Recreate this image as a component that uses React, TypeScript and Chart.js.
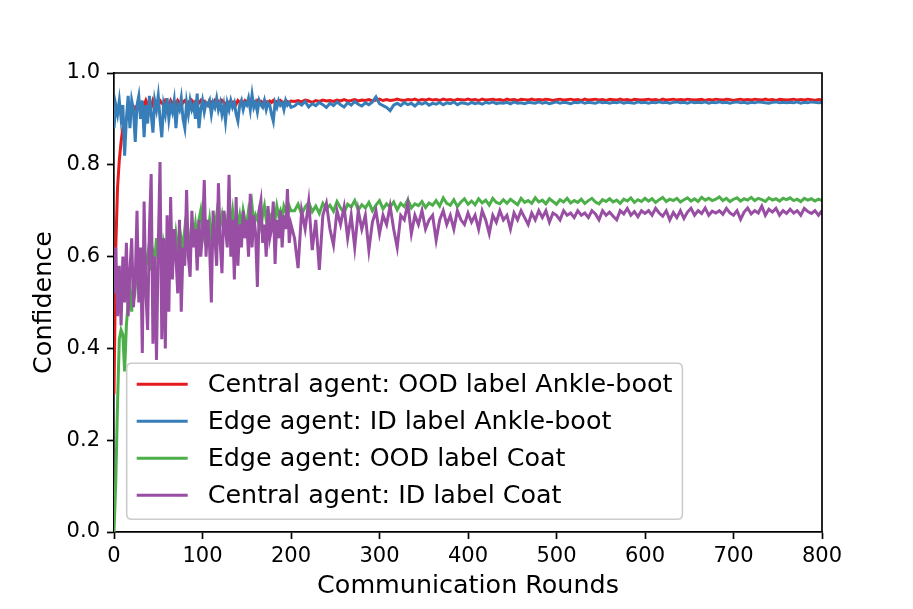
import React, { useEffect, useRef } from "react";
import { Chart, registerables } from "chart.js";

Chart.register(...registerables);

// x positions: every 2 rounds up to 200, then every 4 rounds up to 800
const ROUNDS: number[] = [
  ...Array.from({ length: 101 }, (_, i) => i * 2),
  ...Array.from({ length: 150 }, (_, i) => 204 + i * 4),
];

const LABELS = [
  "Central agent: OOD label Ankle-boot",
  "Edge agent: ID label Ankle-boot",
  "Edge agent: OOD label Coat",
  "Central agent: ID label Coat",
];
const COLORS = ["#e41a1c", "#377eb8", "#4daf4a", "#984ea3"];

const X_TICKS = [0, 100, 200, 300, 400, 500, 600, 700, 800];
const Y_TICKS = [0.0, 0.2, 0.4, 0.6, 0.8, 1.0];

const CENTRAL_OOD_BOOT = [
  0.30, 0.62, 0.75, 0.81, 0.85, 0.88, 0.89, 0.90, 0.91, 0.905,
  0.92, 0.915, 0.925, 0.92, 0.93, 0.925, 0.935, 0.93, 0.94, 0.93,
  0.935, 0.925, 0.94, 0.93, 0.935, 0.93, 0.94, 0.935, 0.93, 0.94,
  0.935, 0.93, 0.94, 0.932, 0.938, 0.93, 0.94, 0.935, 0.928, 0.937,
  0.94, 0.932, 0.936, 0.93, 0.94, 0.935, 0.938, 0.93, 0.935, 0.94,
  0.933, 0.938, 0.935, 0.93, 0.94, 0.936, 0.932, 0.94, 0.935, 0.938,
  0.933, 0.94, 0.936, 0.93, 0.938, 0.935, 0.94, 0.934, 0.937, 0.932,
  0.94, 0.936, 0.938, 0.933, 0.94, 0.937, 0.935, 0.94, 0.934, 0.938,
  0.936, 0.94, 0.935, 0.938, 0.933, 0.94, 0.937, 0.935, 0.939, 0.936,
  0.94, 0.935, 0.938, 0.936, 0.94, 0.937, 0.934, 0.94, 0.938, 0.936,
  0.939,
  0.938, 0.940, 0.937, 0.941, 0.939, 0.936, 0.940, 0.938, 0.941, 0.939,
  0.940, 0.938, 0.941, 0.939, 0.942, 0.939, 0.940, 0.942, 0.939, 0.941,
  0.940, 0.942, 0.939, 0.941, 0.943, 0.940, 0.942, 0.940, 0.941, 0.943,
  0.941, 0.940, 0.942, 0.941, 0.943, 0.940, 0.942, 0.941, 0.943, 0.941,
  0.942, 0.940, 0.943, 0.941, 0.942, 0.940, 0.943, 0.942, 0.941, 0.943,
  0.941, 0.942, 0.940, 0.943, 0.941, 0.942, 0.943, 0.941, 0.942, 0.940,
  0.943, 0.941, 0.942, 0.940, 0.943, 0.942, 0.941, 0.943, 0.941, 0.942,
  0.941, 0.943, 0.942, 0.940, 0.942, 0.943, 0.941, 0.942, 0.943, 0.941,
  0.942, 0.940, 0.943, 0.941, 0.942, 0.943, 0.941, 0.942, 0.940, 0.943,
  0.942, 0.941, 0.943, 0.941, 0.942, 0.940, 0.943, 0.942, 0.941, 0.942,
  0.943, 0.941, 0.942, 0.940, 0.943, 0.941, 0.942, 0.943, 0.941, 0.942,
  0.941, 0.943, 0.942, 0.941, 0.942, 0.943, 0.940, 0.942, 0.941, 0.943,
  0.942, 0.941, 0.943, 0.942, 0.940, 0.942, 0.943, 0.941, 0.942, 0.941,
  0.943, 0.942, 0.941, 0.943, 0.941, 0.942, 0.940, 0.943, 0.942, 0.941,
  0.942, 0.943, 0.941, 0.942, 0.941, 0.943, 0.942, 0.940, 0.942, 0.941,
];

const EDGE_ID_BOOT = [
  0.88, 0.93, 0.91, 0.94, 0.90, 0.93, 0.82, 0.90, 0.95, 0.88,
  0.94, 0.92, 0.85, 0.93, 0.95, 0.90, 0.94, 0.86, 0.93, 0.89,
  0.95, 0.91, 0.87, 0.94, 0.92, 0.95, 0.90, 0.86, 0.93, 0.91,
  0.945, 0.90, 0.93, 0.915, 0.94, 0.88, 0.93, 0.92, 0.945, 0.90,
  0.88, 0.935, 0.91, 0.94, 0.92, 0.93, 0.90, 0.955, 0.88, 0.92,
  0.94, 0.915, 0.935, 0.93, 0.94, 0.91, 0.935, 0.925, 0.945, 0.92,
  0.935, 0.91, 0.93, 0.895, 0.935, 0.92, 0.94, 0.925, 0.935, 0.91,
  0.895, 0.93, 0.94, 0.92, 0.935, 0.93, 0.945, 0.92, 0.953, 0.925,
  0.935, 0.915, 0.94, 0.93, 0.925, 0.94, 0.92, 0.935, 0.93, 0.91,
  0.895, 0.935, 0.925, 0.94, 0.93, 0.935, 0.92, 0.94, 0.93, 0.935,
  0.925,
  0.928, 0.935, 0.930, 0.938, 0.926, 0.933, 0.929, 0.936, 0.931, 0.925,
  0.934, 0.929, 0.937, 0.931, 0.926, 0.935, 0.930, 0.938, 0.932, 0.928,
  0.935, 0.931, 0.937, 0.948, 0.933, 0.929, 0.925, 0.918, 0.930, 0.934,
  0.929, 0.936, 0.931, 0.934, 0.928, 0.935, 0.932, 0.936, 0.930, 0.934,
  0.932, 0.936, 0.931, 0.935, 0.933, 0.937, 0.931, 0.935, 0.934, 0.932,
  0.936, 0.933, 0.935, 0.932, 0.936, 0.934, 0.937, 0.933, 0.935, 0.934,
  0.936, 0.933, 0.937, 0.934, 0.935, 0.933, 0.936, 0.935, 0.934, 0.937,
  0.934, 0.936, 0.933, 0.935, 0.937, 0.934, 0.936, 0.935, 0.933, 0.936,
  0.935, 0.937, 0.934, 0.936, 0.935, 0.934, 0.937, 0.935, 0.936, 0.934,
  0.936, 0.935, 0.937, 0.934, 0.936, 0.935, 0.934, 0.937, 0.935, 0.936,
  0.934, 0.936, 0.935, 0.937, 0.935, 0.936, 0.934, 0.936, 0.937, 0.935,
  0.936, 0.934, 0.937, 0.935, 0.936, 0.935, 0.937, 0.934, 0.936, 0.935,
  0.937, 0.935, 0.936, 0.934, 0.936, 0.937, 0.935, 0.936, 0.934, 0.936,
  0.935, 0.937, 0.936, 0.935, 0.934, 0.936, 0.937, 0.935, 0.936, 0.935,
  0.936, 0.935, 0.937, 0.934, 0.936, 0.935, 0.937, 0.936, 0.935, 0.936,
];

const EDGE_OOD_COAT = [
  0.0, 0.11, 0.28, 0.42, 0.44, 0.43, 0.35, 0.45, 0.50, 0.52,
  0.48, 0.55, 0.53, 0.58, 0.56, 0.60, 0.55, 0.62, 0.58, 0.60,
  0.63, 0.57, 0.61, 0.59, 0.64, 0.60, 0.62, 0.58, 0.63, 0.61,
  0.64, 0.58, 0.60, 0.63, 0.61, 0.65, 0.62, 0.60, 0.64, 0.62,
  0.66, 0.63, 0.65, 0.61, 0.66, 0.64, 0.67, 0.63, 0.68, 0.70,
  0.66, 0.64, 0.67, 0.65, 0.68, 0.64, 0.67, 0.66, 0.69, 0.65,
  0.67, 0.69, 0.66, 0.68, 0.65, 0.69, 0.67, 0.70, 0.66, 0.68,
  0.67, 0.69, 0.66, 0.70, 0.68, 0.67, 0.70, 0.68, 0.71, 0.67,
  0.69, 0.68, 0.70, 0.67, 0.69, 0.71, 0.68, 0.70, 0.69, 0.67,
  0.70, 0.68, 0.71, 0.69, 0.70, 0.68, 0.71, 0.70, 0.69, 0.71,
  0.70,
  0.700, 0.714, 0.692, 0.708, 0.718, 0.698, 0.710, 0.694, 0.716, 0.704,
  0.712, 0.699, 0.720, 0.706, 0.695, 0.714, 0.708, 0.722, 0.701, 0.713,
  0.706, 0.718, 0.700, 0.712, 0.722, 0.704, 0.715, 0.708, 0.719, 0.702,
  0.716, 0.709, 0.724, 0.706, 0.715, 0.711, 0.720, 0.707, 0.717, 0.712,
  0.722, 0.710, 0.728, 0.716, 0.712, 0.724, 0.709, 0.719, 0.726, 0.714,
  0.721, 0.713, 0.726, 0.717, 0.723, 0.712, 0.727, 0.718, 0.715, 0.724,
  0.716, 0.725, 0.719, 0.713, 0.727, 0.718, 0.722, 0.716, 0.728, 0.719,
  0.723, 0.715, 0.726, 0.720, 0.714, 0.724, 0.719, 0.727, 0.717, 0.722,
  0.718, 0.725, 0.716, 0.722, 0.727, 0.719, 0.715, 0.724, 0.720, 0.726,
  0.719, 0.723, 0.716, 0.725, 0.721, 0.728, 0.718, 0.724, 0.720, 0.727,
  0.721, 0.726, 0.718, 0.724, 0.729, 0.720, 0.725, 0.722, 0.727, 0.719,
  0.724, 0.728, 0.721, 0.726, 0.720, 0.729, 0.723, 0.727, 0.722, 0.725,
  0.730, 0.722, 0.727, 0.720, 0.725, 0.728, 0.721, 0.726, 0.723, 0.729,
  0.722, 0.727, 0.724, 0.720, 0.728, 0.723, 0.726, 0.721, 0.727, 0.724,
  0.728, 0.722, 0.725, 0.720, 0.727, 0.723, 0.726, 0.721, 0.725, 0.722,
];

const CENTRAL_ID_COAT = [
  0.52, 0.62, 0.47, 0.58, 0.45, 0.60, 0.50, 0.63, 0.47, 0.57,
  0.64, 0.49, 0.55, 0.70, 0.50, 0.62, 0.39, 0.72, 0.52, 0.44,
  0.66, 0.78, 0.41, 0.60, 0.375, 0.62, 0.806, 0.42, 0.64, 0.40,
  0.69, 0.48, 0.73, 0.55, 0.66, 0.60, 0.52, 0.68, 0.48, 0.62,
  0.58, 0.745, 0.60, 0.556, 0.70, 0.62, 0.66, 0.57, 0.68, 0.60,
  0.65, 0.767, 0.60, 0.68, 0.62, 0.50, 0.70, 0.64, 0.58, 0.76,
  0.63, 0.564, 0.70, 0.66, 0.62, 0.778, 0.60, 0.68, 0.55, 0.73,
  0.58, 0.67, 0.62, 0.70, 0.64, 0.68, 0.60, 0.737, 0.62, 0.69,
  0.65, 0.534, 0.70, 0.722, 0.63, 0.67, 0.60, 0.71, 0.64, 0.66,
  0.72, 0.584, 0.68, 0.64, 0.70, 0.62, 0.69, 0.66, 0.747, 0.63,
  0.67,
  0.64, 0.575, 0.70, 0.66, 0.72, 0.614, 0.68, 0.571, 0.69, 0.716,
  0.66, 0.625, 0.70, 0.67, 0.708, 0.64, 0.69, 0.62, 0.70, 0.66,
  0.69, 0.614, 0.675, 0.70, 0.65, 0.69, 0.67, 0.71, 0.66, 0.62,
  0.69, 0.68, 0.716, 0.65, 0.69, 0.67, 0.70, 0.66, 0.68, 0.69,
  0.636, 0.68, 0.70, 0.67, 0.69, 0.66, 0.70, 0.68, 0.67, 0.695,
  0.675, 0.69, 0.66, 0.70, 0.68, 0.65, 0.69, 0.675, 0.70, 0.68,
  0.69, 0.66, 0.695, 0.68, 0.70, 0.685, 0.67, 0.695, 0.68, 0.70,
  0.685, 0.70, 0.675, 0.695, 0.69, 0.68, 0.70, 0.69, 0.695, 0.685,
  0.70, 0.69, 0.695, 0.685, 0.70, 0.693, 0.68, 0.70, 0.69, 0.697,
  0.688, 0.68, 0.70, 0.693, 0.705, 0.69, 0.698, 0.687, 0.70, 0.694,
  0.70, 0.69, 0.705, 0.695, 0.688, 0.70, 0.68, 0.696, 0.685, 0.70,
  0.683, 0.697, 0.705, 0.69, 0.70, 0.694, 0.706, 0.69, 0.699, 0.695,
  0.70, 0.692, 0.705, 0.695, 0.69, 0.70, 0.681, 0.697, 0.706, 0.693,
  0.70, 0.695, 0.71, 0.69, 0.703, 0.697, 0.705, 0.69, 0.70, 0.694,
  0.703, 0.695, 0.70, 0.69, 0.705, 0.698, 0.694, 0.70, 0.69, 0.70,
];

const SERIES = [CENTRAL_OOD_BOOT, EDGE_ID_BOOT, EDGE_OOD_COAT, CENTRAL_ID_COAT];

const FONT = "'DejaVu Sans', 'Liberation Sans', sans-serif";

const framePlugin = {
  id: "frame",
  afterDraw(chart: any) {
    const { ctx, chartArea: a } = chart;
    ctx.save();
    ctx.strokeStyle = "#000";
    ctx.lineWidth = 1.7;
    ctx.beginPath();
    ctx.moveTo(a.left, a.top);
    ctx.lineTo(a.right, a.top);
    ctx.lineTo(a.right, a.bottom);
    ctx.stroke();
    ctx.restore();
  },
};

const legendPlugin = {
  id: "boxLegend",
  afterDraw(chart: any) {
    const { ctx, chartArea: a } = chart;
    const fs = 25.4;
    const pad = 10;
    const handle = 51;
    const gap = 20;
    const rowH = 37;
    const items = chart.data.datasets;
    ctx.save();
    ctx.font = `${fs}px ${FONT}`;
    const textW = Math.max(...items.map((d: any) => ctx.measureText(d.label).width));
    const boxW = pad + handle + gap + textW + pad;
    const boxH = 156;
    const x0 = a.left + 12.7;
    const y1 = a.bottom - 12.7;
    const y0 = y1 - boxH;
    const r = 5;
    ctx.beginPath();
    ctx.moveTo(x0 + r, y0);
    ctx.lineTo(x0 + boxW - r, y0);
    ctx.quadraticCurveTo(x0 + boxW, y0, x0 + boxW, y0 + r);
    ctx.lineTo(x0 + boxW, y1 - r);
    ctx.quadraticCurveTo(x0 + boxW, y1, x0 + boxW - r, y1);
    ctx.lineTo(x0 + r, y1);
    ctx.quadraticCurveTo(x0, y1, x0, y1 - r);
    ctx.lineTo(x0, y0 + r);
    ctx.quadraticCurveTo(x0, y0, x0 + r, y0);
    ctx.closePath();
    ctx.fillStyle = "rgba(255,255,255,0.8)";
    ctx.fill();
    ctx.strokeStyle = "#cccccc";
    ctx.lineWidth = 1.6;
    ctx.stroke();
    items.forEach((d: any, i: number) => {
      const cy = y0 + 21 + i * rowH;
      ctx.beginPath();
      ctx.strokeStyle = d.borderColor;
      ctx.lineWidth = 3;
      ctx.moveTo(x0 + pad, cy);
      ctx.lineTo(x0 + pad + handle, cy);
      ctx.stroke();
      ctx.fillStyle = "#000";
      ctx.textBaseline = "middle";
      ctx.textAlign = "left";
      ctx.fillText(d.label, x0 + pad + handle + gap, cy + 1);
    });
    ctx.restore();
  },
};

export default function App() {
  const canvasRef = useRef<HTMLCanvasElement | null>(null);

  useEffect(() => {
    const canvas = canvasRef.current;
    if (!canvas) return;
    const datasets = SERIES.map((vals, i) => ({
      label: LABELS[i],
      data: vals.map((v, j) => ({ x: ROUNDS[j], y: v })),
      borderColor: COLORS[i],
      backgroundColor: COLORS[i],
      borderWidth: 3,
      pointRadius: 0,
      tension: 0,
      fill: false,
      order: 3 - i,
    }));
    const chart = new Chart(canvas, {
      type: "line",
      data: { datasets },
      options: {
        responsive: false,
        animation: false,
        devicePixelRatio: 1,
        layout: { padding: { top: 73, right: 91, left: 0, bottom: 0 } },
        plugins: {
          legend: { display: false },
          tooltip: { enabled: false },
        },
        scales: {
          x: {
            type: "linear",
            min: 0,
            max: 800,
            afterBuildTicks: (scale: any) => {
              scale.ticks = X_TICKS.map((v) => ({ value: v }));
            },
            afterFit: (scale: any) => {
              scale.height = 77;
            },
            ticks: {
              color: "#000",
              font: { family: FONT, size: 21 },
              padding: 5,
              maxRotation: 0,
              autoSkip: false,
              callback: (v: any) => String(v),
            },
            grid: {
              display: true,
              drawOnChartArea: false,
              drawTicks: true,
              tickLength: 7,
              tickColor: "#000",
              tickWidth: 1.7,
            },
            border: { display: true, color: "#000", width: 1.7 },
            title: {
              display: true,
              text: "Communication Rounds",
              color: "#000",
              font: { family: FONT, size: 25.4 },
              padding: { top: 0, bottom: 7 },
            },
          },
          y: {
            type: "linear",
            min: 0,
            max: 1,
            afterBuildTicks: (scale: any) => {
              scale.ticks = Y_TICKS.map((v) => ({ value: v }));
            },
            afterFit: (scale: any) => {
              scale.width = 114;
            },
            ticks: {
              color: "#000",
              font: { family: FONT, size: 21 },
              padding: 7,
              autoSkip: false,
              callback: (v: any) => Number(v).toFixed(1),
            },
            grid: {
              display: true,
              drawOnChartArea: false,
              drawTicks: true,
              tickLength: 7,
              tickColor: "#000",
              tickWidth: 1.7,
            },
            border: { display: true, color: "#000", width: 1.7 },
            title: {
              display: true,
              text: "Confidence",
              color: "#000",
              font: { family: FONT, size: 25.4 },
              padding: { top: 29, bottom: 0 },
            },
          },
        },
      },
      plugins: [framePlugin, legendPlugin],
    });
    return () => chart.destroy();
  }, []);

  return (
    <div style={{ position: "absolute", left: 0, top: 0, width: 913, height: 609, background: "#fff" }}>
      <canvas ref={canvasRef} width={913} height={609} style={{ display: "block" }} />
    </div>
  );
}
